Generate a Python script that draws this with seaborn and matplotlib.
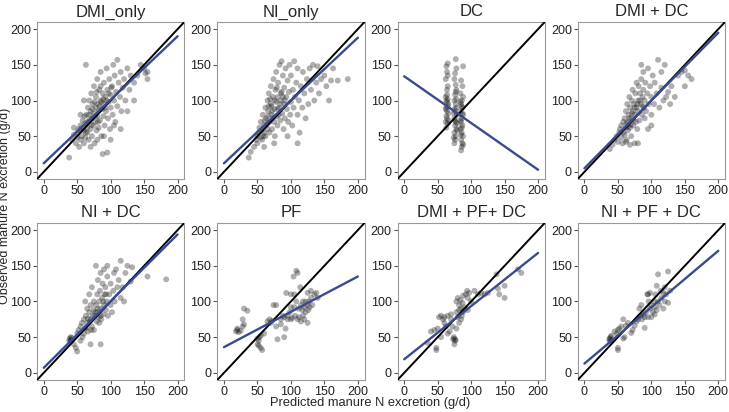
import seaborn as sns
import pandas as pd
import numpy as np
from matplotlib import pyplot as plt

# Paneles (modelos)
panel_names = ["DMI_only", "NI_only", "DC", "DMI + DC",
               "NI + DC", "PF", "DMI + PF+ DC", "NI + PF + DC"]

# Recta de regresión de cada panel (intercepto, pendiente)
reg_intercept = [12, 12, 134, 5, 7, 36, 19, 13]
reg_slope = [0.89, 0.88, -0.655, 0.95, 0.935, 0.495, 0.745, 0.79]
reg_x = [0, 200]

dmi_only = [(38,20),(42,45),(45,52),(48,40),(50,55),(50,48),(52,60),(53,35),(55,45),(55,65),
    (57,50),(58,72),(60,40),(60,58),(62,68),(62,48),(63,150),(64,80),(65,55),(65,62),(66,90),
    (67,45),(68,72),(68,100),(70,60),(70,85),(71,110),(72,50),(72,75),(73,95),(74,65),(75,120),
    (75,82),(76,40),(77,70),(78,90),(78,105),(79,58),(80,78),(80,130),(81,95),(82,62),(82,85),
    (83,115),(84,72),(85,100),(85,140),(86,50),(87,88),(88,25),(88,110),(89,78),(90,95),(90,125),
    (91,65),(92,105),(93,85),(94,145),(95,27),(95,115),(96,75),(97,98),(98,130),(99,60),(100,90),
    (100,108),(102,120),(103,80),(104,150),(105,100),(106,135),(107,70),(108,112),(110,157),
    (110,92),(112,125),(114,105),(115,140),(116,85),(118,118),(120,130),(122,100),(125,145),
    (128,115),(130,135),(135,125),(140,135),(145,150),(150,145),(152,138),(155,140),(155,130),
    (135,100),(125,85),(115,60),(100,45),(60,100),(55,80),(45,62),(70,35),(80,45),(90,50),(105,65),
    (58,62),(63,55),(68,80),(73,88),(77,78),(83,92),(86,98),(92,90),(97,110),(66,70),(71,66),
    (76,98),(81,70),(85,120),(89,102),(94,100),(101,118),(61,78),(54,58),(79,112)]

ni_only = [(37,20),(40,28),(45,35),(48,45),(50,50),(50,40),(52,55),(53,62),(55,48),(55,70),
    (57,45),(58,80),(60,55),(60,65),(62,90),(62,50),(63,75),(65,100),(65,60),(66,85),(67,110),
    (68,70),(68,55),(70,95),(70,120),(71,80),(72,60),(73,105),(74,130),(75,88),(75,70),(76,50),
    (77,115),(78,98),(78,140),(79,78),(80,65),(80,105),(81,125),(82,90),(83,150),(84,72),(85,110),
    (85,100),(86,155),(87,82),(88,135),(89,60),(90,95),(90,118),(91,75),(92,145),(93,105),(94,88),
    (95,128),(96,70),(97,112),(98,150),(99,80),(100,98),(100,135),(102,65),(103,115),(104,90),
    (105,155),(106,105),(108,125),(110,80),(110,145),(112,100),(113,55),(115,120),(117,90),
    (118,140),(120,110),(122,75),(124,130),(126,95),(128,145),(130,115),(133,150),(135,100),
    (138,125),(140,148),(142,110),(145,130),(150,135),(153,120),(157,100),(160,128),(163,145),
    (170,128),(185,130),(110,40),(95,50),(75,40),(60,35),
    (56,58),(61,72),(66,78),(71,92),(76,100),(80,88),(84,95),(88,105),(72,85),(69,102),(64,66),
    (59,50),(79,118),(86,112),(91,100),(74,76),(82,80),(67,92)]

dc = [(62,70),(63,78),(64,85),(65,92),(63,100),(64,108),(65,120),(62,130),(64,140),(63,148),
    (65,152),(66,95),(62,88),(64,75),(65,68),(63,62),(66,82),(64,115),(65,102),(62,105),(66,72),
    (63,90),(65,135),(64,98),
    (75,40),(76,45),(77,50),(75,55),(78,60),(76,65),(77,70),(75,75),(79,80),(76,85),(78,90),
    (77,95),(75,100),(76,108),(78,115),(77,122),(75,130),(76,138),(78,145),(77,158),(74,48),
    (79,58),(76,72),(78,102),(75,88),(77,112),(79,68),(74,82),
    (85,30),(86,35),(87,40),(85,45),(88,50),(86,55),(84,60),(87,65),(85,70),(86,75),(88,80),
    (84,85),(87,90),(85,95),(86,100),(88,105),(84,110),(87,120),(85,128),(88,148),(86,62),
    (84,72),(87,82),(85,52),(86,92),(88,38),(84,98)]

dmi_dc = [(38,32),(42,38),(45,45),(48,50),(50,42),(52,55),(53,60),(55,48),(55,65),(57,40),
    (58,70),(60,52),(60,75),(62,62),(62,85),(63,45),(64,95),(65,58),(65,70),(66,80),(67,105),
    (68,62),(68,90),(70,75),(70,50),(71,100),(72,85),(72,115),(73,65),(74,95),(75,40),(75,80),
    (76,110),(77,70),(78,90),(78,125),(79,60),(80,100),(80,85),(81,120),(82,72),(83,110),(84,95),
    (85,150),(85,130),(86,80),(87,105),(88,140),(88,115),(89,90),(90,100),(90,75),(91,125),
    (92,85),(94,110),(95,145),(96,95),(98,120),(100,105),(100,80),(102,135),(104,95),(105,125),
    (108,110),(110,157),(112,90),(115,118),(118,100),(120,150),(122,105),(125,112),(128,95),
    (130,120),(135,105),(140,135),(145,140),(150,142),(155,135),(160,130),(150,120),(115,140),
    (95,60),(80,40),(68,38),(62,42),(100,65),
    (58,55),(63,68),(67,75),(71,82),(75,90),(79,95),(83,100),(87,92),(73,72),(69,66),(65,64)]

ni_dc = [(38,45),(39,48),(40,50),(41,46),(40,44),(42,49),(45,40),(48,35),(50,55),(50,30),
    (52,60),(55,45),(55,65),(57,70),(58,50),(60,75),(60,55),(62,62),(62,100),(63,80),(65,70),
    (65,90),(66,58),(68,85),(68,110),(70,75),(70,95),(72,65),(72,120),(74,88),(75,100),(75,60),
    (76,80),(78,95),(78,150),(79,72),(80,110),(80,85),(81,130),(82,78),(83,100),(84,115),(85,90),
    (85,140),(86,75),(87,105),(88,125),(89,82),(90,95),(90,145),(91,110),(92,120),(93,88),
    (94,100),(95,135),(95,150),(96,80),(98,110),(100,125),(100,95),(102,85),(104,115),(105,140),
    (106,100),(108,145),(110,120),(112,130),(115,157),(115,105),(118,120),(120,100),(122,140),
    (125,150),(130,128),(132,148),(155,135),(183,131),(85,40),(70,40),
    (64,64),(69,72),(73,80),(77,85),(81,90),(85,80),(89,100),(93,110),(71,60),(66,76),(83,70)]

pf = [(18,58),(20,60),(22,57),(25,59),(20,62),(28,65),(28,75),(30,90),(35,87),(30,68),(50,48),
    (52,45),(52,38),(53,50),(55,35),(57,32),(50,40),(55,52),(60,55),(65,72),(68,75),(70,70),
    (72,73),(74,95),(78,95),(80,47),(78,65),(85,75),(90,50),(92,62),(93,112),(95,75),(95,80),
    (98,85),(100,75),(100,110),(102,77),(104,135),(105,110),(106,80),(108,143),(110,140),(110,75),
    (112,90),(112,78),(114,120),(115,95),(115,72),(117,88),(118,80),(118,100),(120,92),(120,75),
    (122,100),(122,85),(124,95),(125,112),(126,88),(127,100),(128,92),(130,105),(130,115),
    (132,95),(135,110),(138,112),(140,105),(105,92),(108,100),(100,92),(90,78),(85,68),(88,80),
    (125,70)]

dmi_pf_dc = [(35,42),(40,58),(45,60),(48,35),(48,32),(50,62),(52,78),(55,80),(55,50),(58,75),
    (60,70),(62,65),(65,80),(68,58),(70,75),(72,65),(73,47),(75,48),(76,45),(74,50),(75,40),
    (77,46),(78,85),(78,100),(80,105),(80,78),(82,88),(82,95),(84,102),(85,90),(85,75),(86,80),
    (87,98),(88,85),(90,92),(92,110),(94,115),(95,105),(95,88),(97,112),(100,100),(105,115),
    (110,110),(115,112),(120,110),(125,112),(138,138),(140,118),(142,110),(150,105),(150,122),
    (170,145),(175,140),(78,62),(82,70),(88,108),(65,55),(60,78),(70,82)]

ni_pf_dc = [(37,47),(38,48),(39,50),(40,46),(38,44),(40,52),(45,58),(48,55),(50,60),(50,35),
    (50,32),(52,62),(55,65),(58,48),(58,75),(60,50),(62,66),(65,70),(70,56),(72,60),(75,66),
    (78,72),(80,75),(82,90),(84,80),(85,95),(86,75),(88,82),(90,63),(90,78),(92,85),(94,110),
    (95,78),(96,100),(98,90),(98,112),(100,78),(100,95),(102,85),(104,100),(105,92),(106,110),
    (108,88),(108,122),(110,100),(110,138),(112,95),(114,115),(115,105),(118,90),(118,112),
    (120,100),(120,120),(122,110),(125,142),(125,98),(128,115),(105,82),(95,110)]

panel_points = [dmi_only, ni_only, dc, dmi_dc, ni_dc, pf, dmi_pf_dc, ni_pf_dc]
ticks = [0, 50, 100, 150, 200]

sns.set_style("white")
plt.rcParams['font.family'] = ['Liberation Sans', 'DejaVu Sans']

fig, axes = plt.subplots(2, 4, figsize=(7.29, 4.12), dpi=100)
plt.subplots_adjust(left=0.0508, right=0.9945, top=0.9466, bottom=0.0777,
                    wspace=0.224, hspace=0.28)

for ax, name, pts, b0, b1 in zip(axes.flat, panel_names, panel_points,
                                 reg_intercept, reg_slope):
    datos = pd.DataFrame(pts, columns=["pred", "obs"])
    sns.scatterplot(data=datos, x="pred", y="obs", ax=ax, color="#1a1a1a",
                    alpha=0.35, s=18, edgecolor="none")
    # linea 1:1
    ax.axline((0, 0), slope=1, color="black", lw=1.4, zorder=3)
    # linea de regresion
    xs = np.array(reg_x)
    sns.lineplot(x=xs, y=b0 + b1 * xs, ax=ax, color="#3b4a8f", lw=1.7, zorder=4)
    ax.set_xlim(-10, 210)
    ax.set_ylim(-10, 210)
    ax.set_xticks(ticks)
    ax.set_yticks(ticks)
    ax.set_xlabel("")
    ax.set_ylabel("")
    ax.set_title(name, fontsize=12, pad=4)
    ax.tick_params(labelsize=9, length=3, color="#555555", labelcolor="#222222",
                   pad=1.2, bottom=True, left=True)
    for sp in ax.spines.values():
        sp.set_color("#999999")
        sp.set_linewidth(0.8)

fig.text(0.508, 0.022, "Predicted manure N excretion (g/d)", ha="center",
         va="center", fontsize=9.3)
fig.text(0.0065, 0.5, "Observed manure N excretion (g/d)", ha="center",
         va="center", rotation=90, fontsize=9)

plt.savefig("out.png", dpi=100)
